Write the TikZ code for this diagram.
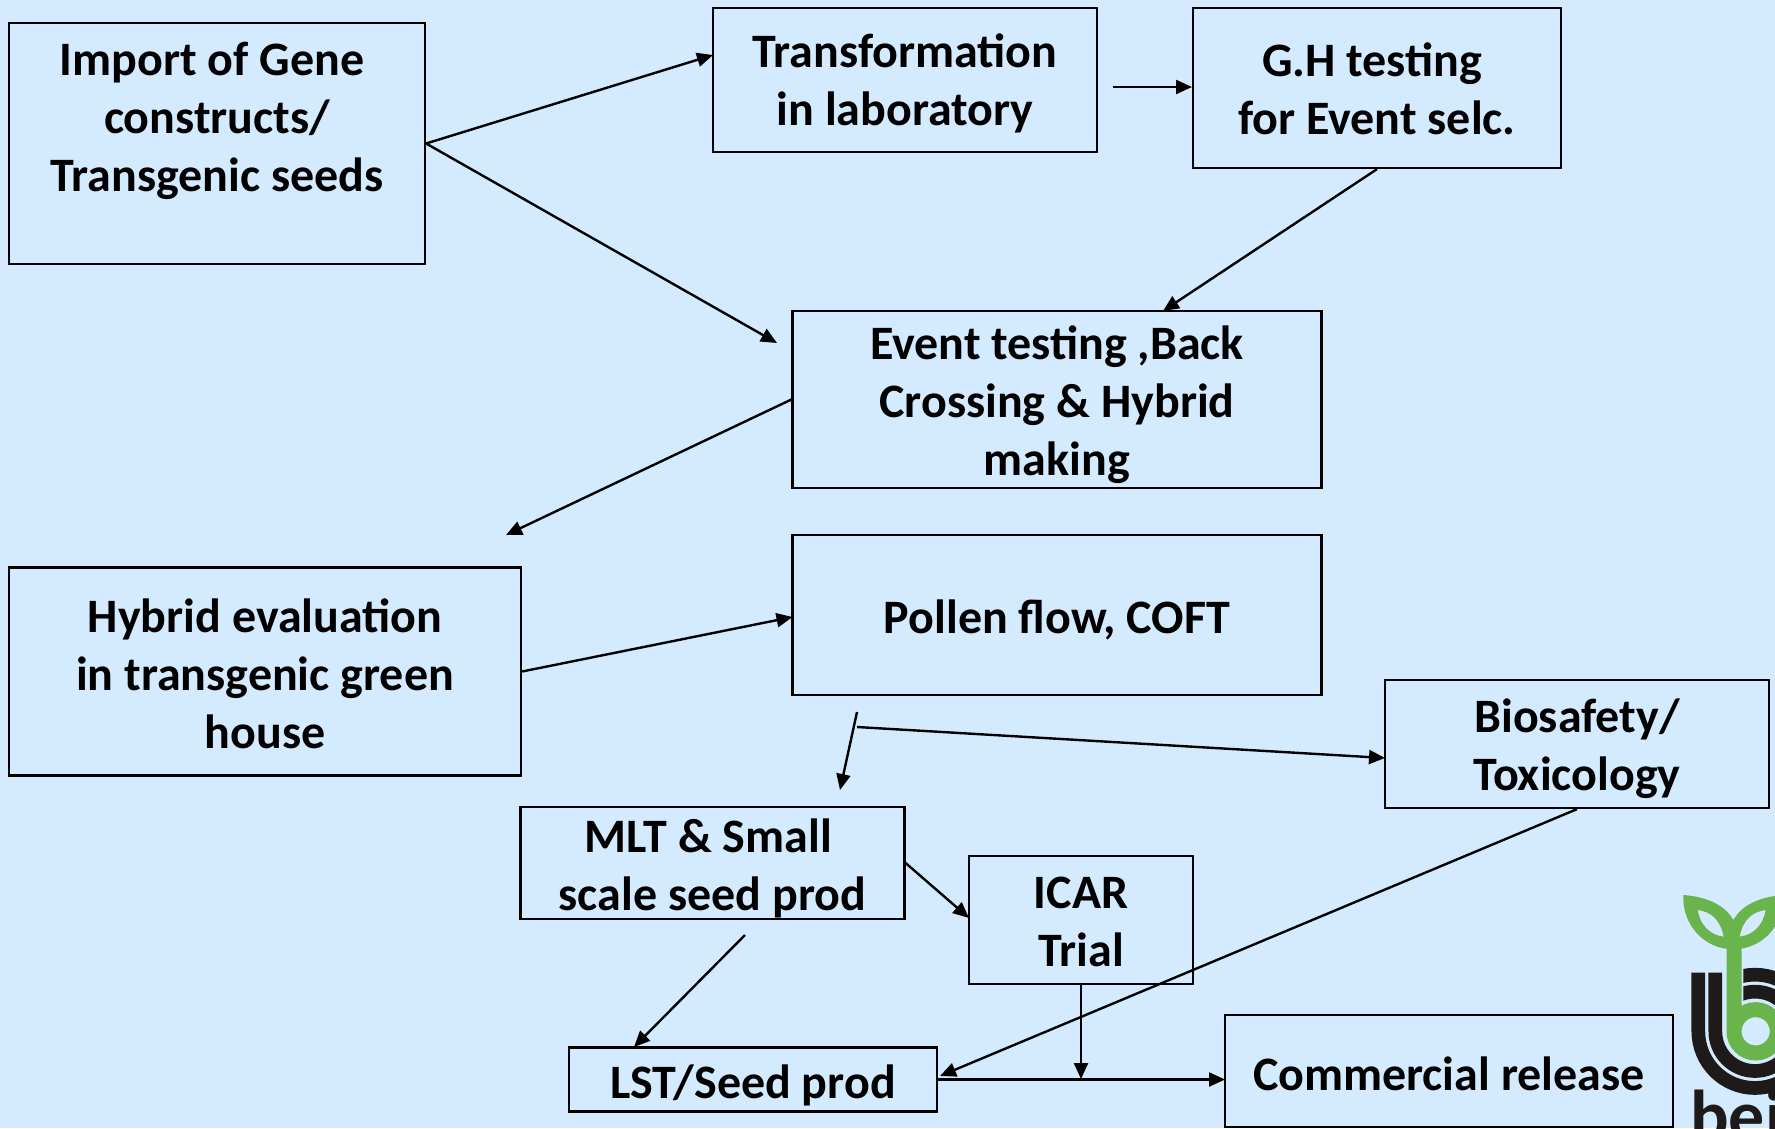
\documentclass[tikz,border=0pt]{standalone}
\usepackage{fontspec}
\setmainfont{Carlito}
\usetikzlibrary{arrows.meta}
\definecolor{pagebg}{HTML}{D4EBFF}
\definecolor{leaf}{HTML}{6AB44C}
\definecolor{logoblack}{HTML}{1E1A19}
\newcommand{\dn}[2]{\raisebox{-#1}[\dimexpr\height-4pt\relax][\dimexpr\depth-4pt\relax]{\begin{tabular}{@{}c@{}}#2\end{tabular}}}
\tikzset{
  stagebox/.style={draw=black,line width=2.2pt,rectangle,inner sep=0pt,align=center,
    font=\fontsize{48}{58}\selectfont\bfseries,text=black},
  flow/.style={draw=black,line width=2.4pt,-{Triangle[length=16pt,width=14pt]}},
  ring/.style={line width=13.7pt,draw=logoblack,line cap=butt},
}
\begin{document}
\begin{tikzpicture}[x=1pt,y=-1pt]
\useasboundingbox (0,0) rectangle (1775,1128);
\clip (0,0) rectangle (1775,1128);
\fill[pagebg] (0,0) rectangle (1775,1128);

% boxes
\node[stagebox,minimum width=416pt,minimum height=241pt] (imp) at (217,143.5) {\dn{7pt}{Import of Gene\kern10pt\\constructs/\\Transgenic seeds\\~}};
\node[stagebox,minimum width=384pt,minimum height=144pt] (trans) at (905,80) {\dn{4.5pt}{Transformation\\in laboratory}};
\node[stagebox,minimum width=368pt,minimum height=160pt] (gh) at (1377,88) {\dn{5.5pt}{G.H testing\kern10pt\\for Event selc.}};
\node[stagebox,minimum width=529pt,minimum height=177pt] (event) at (1057,399.5) {\dn{6.5pt}{Event testing ,Back\\Crossing \& Hybrid\\making}};
\node[stagebox,minimum width=512pt,minimum height=208pt] (hybrid) at (265,671.5) {\dn{7pt}{Hybrid evaluation\\in transgenic green\\house}};
\node[stagebox,minimum width=529pt,minimum height=160pt] (pollen) at (1057,615) {\dn{6.5pt}{Pollen flow, COFT}};
\node[stagebox,minimum width=384pt,minimum height=128pt] (bio) at (1577,744) {\dn{6pt}{Biosafety/\\Toxicology}};
\node[stagebox,minimum width=384pt,minimum height=112pt] (mlt) at (712.5,863) {\dn{6.5pt}{MLT \& Small\kern8pt\\scale seed prod}};
\node[stagebox,minimum width=224pt,minimum height=128pt] (icar) at (1081,920) {\dn{6pt}{ICAR\\Trial}};
\node[stagebox,minimum width=368pt,minimum height=64pt] (lst) at (753,1079.5) {\dn{7pt}{LST/Seed prod}};
\node[stagebox,minimum width=448pt,minimum height=112pt] (comm) at (1449,1071) {\dn{7.5pt}{Commercial release}};

% free ends of connectors
\coordinate (transin) at (713,55);
\coordinate (eventin) at (777,343);
\coordinate (ghout) at (1113,87);
\coordinate (ghin) at (1192,87);
\coordinate (eventtop) at (1163,311);
\coordinate (hybridin) at (506,535);
\coordinate (pollenin) at (792.5,617);
\coordinate (splitA) at (857,712);
\coordinate (mltin) at (840,790);
\coordinate (splitB) at (857,727);
\coordinate (bioin) at (1385,758);
\coordinate (lstin) at (940,1076);
\coordinate (icarin) at (969,918);
\coordinate (mltout) at (745,935);
\coordinate (lsttop) at (634,1047);
\coordinate (join) at (1081,1079);
\coordinate (commin) at (1225,1079.5);

% connectors
\draw[flow] (imp.east) -- (transin);
\draw[flow] (imp.east) -- (eventin);
\draw[flow] (ghout) -- (ghin);
\draw[flow] (gh.south) -- (eventtop);
\draw[flow] (event.west) -- (hybridin);
\draw[flow] (hybrid.east) -- (pollenin);
\draw[flow] (splitA) -- (mltin);
\draw[flow] (splitB) -- (bioin);
\draw[flow] (bio.south) -- (lstin);
\draw[flow] (mlt.east) -- (icarin);
\draw[flow] (mltout) -- (lsttop);
\draw[flow] (icar.south) -- (join);
\draw[flow] (lst.east) -- (commin);

% logo
\begin{scope}[shift={(1600,860)},x=0.3333pt,y=-0.3333pt]
  % black bands: straight left sides and lower half
  \draw[ring] (295,338) -- (295,514) arc[start angle=180,end angle=0,radius=170];
  \draw[ring] (346,338) -- (346,514) arc[start angle=180,end angle=0,radius=119];
  % black bands: upper arcs, cut off vertically beside the stem
  \begin{scope}
    \clip (430,300) rectangle (700,514);
    \draw[ring] (635,514) arc[start angle=0,end angle=-180,radius=170];
    \draw[ring] (584,514) arc[start angle=0,end angle=-180,radius=119];
  \end{scope}
  % green stem and bowl
  \draw[draw=leaf,line width=15pt,line cap=butt] (402,240) -- (402,514) arc[start angle=180,end angle=0,radius=65] arc[start angle=0,end angle=-180,radius=65];
  % leaves
  \fill[leaf,even odd rule] (250,105) .. controls (320,110) and (375,135) .. (400,180)
     .. controls (425,135) and (480,110) .. (550,105)
     .. controls (555,190) and (490,268) .. (400,268)
     .. controls (310,268) and (245,190) .. (250,105) -- cycle
     (293,150) .. controls (330,155) and (360,175) .. (371,230)
     .. controls (330,225) and (300,195) .. (293,150) -- cycle
     (497,150) .. controls (460,155) and (430,175) .. (419,230)
     .. controls (460,225) and (490,195) .. (497,150) -- cycle;
\end{scope}
\node[anchor=base west,inner sep=0pt,text=logoblack,font=\fontsize{72}{72}\selectfont\bfseries] (brand) at (1690,1140) {bei};
\end{tikzpicture}
\end{document}
